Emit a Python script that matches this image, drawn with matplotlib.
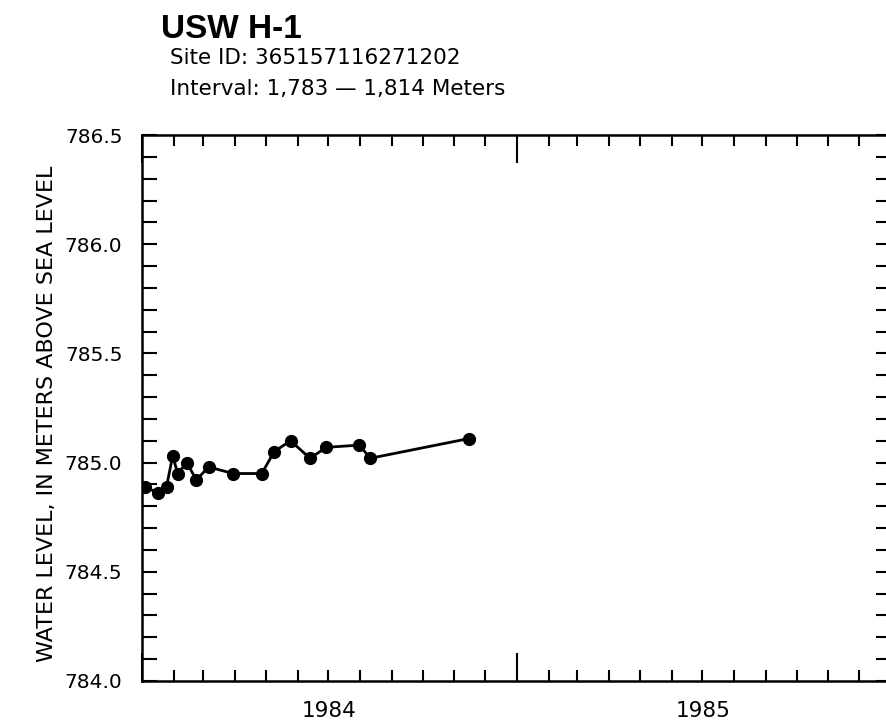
import pandas as pd
import matplotlib.pyplot as plt
import matplotlib.dates as mdates
import matplotlib.transforms as mtransforms

# Water level readings
DATES = ['1984-01-04', '1984-01-17', '1984-01-25', '1984-01-31', '1984-02-05',
         '1984-02-14', '1984-02-23', '1984-03-06', '1984-03-30', '1984-04-27',
         '1984-05-09', '1984-05-25', '1984-06-13', '1984-06-29', '1984-07-31',
         '1984-08-11', '1984-11-15']
LEVELS = [784.89, 784.86, 784.89, 785.03, 784.95,
          785.00, 784.92, 784.98, 784.95, 784.95,
          785.05, 785.10, 785.02, 785.07, 785.08,
          785.02, 785.11]
YEARS = [1984, 1985]
Y_TICKS = [784.0, 784.5, 785.0, 785.5, 786.0, 786.5]

TITLE = "USW H-1"
SITE = "Site ID: 365157116271202"
INTERVAL = "Interval: 1,783 \u2014 1,814 Meters"
YLABEL = "WATER LEVEL, IN METERS ABOVE SEA LEVEL"

plt.rcParams['font.family'] = ['DejaVu Sans']

fig = plt.figure(figsize=(8.87, 7.24), dpi=100)
ax = fig.add_axes([0.160, 0.0594, 0.8445, 0.7541])

dates = pd.to_datetime(DATES)
ax.plot(dates, LEVELS, color='black', linewidth=2.0, marker='o', markersize=8.5)

ax.set_xlim(pd.Timestamp('1984-01-01'), pd.Timestamp('1986-01-01'))
ax.set_ylim(784.0, 786.5)

# x axis: long ticks at years, short ticks at months
ax.xaxis.set_major_locator(mdates.YearLocator())
ax.xaxis.set_major_formatter(plt.NullFormatter())
ax.xaxis.set_minor_locator(mdates.MonthLocator())
ax.tick_params(axis='x', which='major', direction='in', length=20, width=1.5,
               top=True, bottom=True)
ax.tick_params(axis='x', which='minor', direction='in', length=8, width=1.5,
               top=True, bottom=True)

# year labels centred under each year
trans = mtransforms.blended_transform_factory(ax.transData, ax.transAxes)
for yr in YEARS:
    mid = pd.Timestamp(f'{yr}-07-02')
    ax.text(mdates.date2num(mid), -0.055, str(yr), transform=trans,
            ha='center', va='center', fontsize=15.5)

# y axis
ax.set_yticks(Y_TICKS)
ax.set_yticklabels([f'{v:.1f}' for v in Y_TICKS])
ax.yaxis.set_minor_locator(plt.MultipleLocator(0.1))
ax.tick_params(axis='y', which='both', direction='in', length=11, width=1.5,
               left=True, right=True, labelsize=14.5, pad=14)

for s in ax.spines.values():
    s.set_linewidth(1.8)

ax.set_ylabel(YLABEL, fontsize=16)
ax.yaxis.set_label_coords(-0.113, 0.49)

fig.text(0.182, 1 - 38 / 724, TITLE, fontsize=24, fontweight='bold',
         family=['Liberation Sans'], ha='left', va='baseline')
fig.text(0.192, 1 - 64 / 724, SITE, fontsize=15.5, ha='left', va='baseline')
fig.text(0.192, 1 - 95 / 724, INTERVAL, fontsize=15.5, ha='left', va='baseline')

fig.savefig('out.png', dpi=100)
